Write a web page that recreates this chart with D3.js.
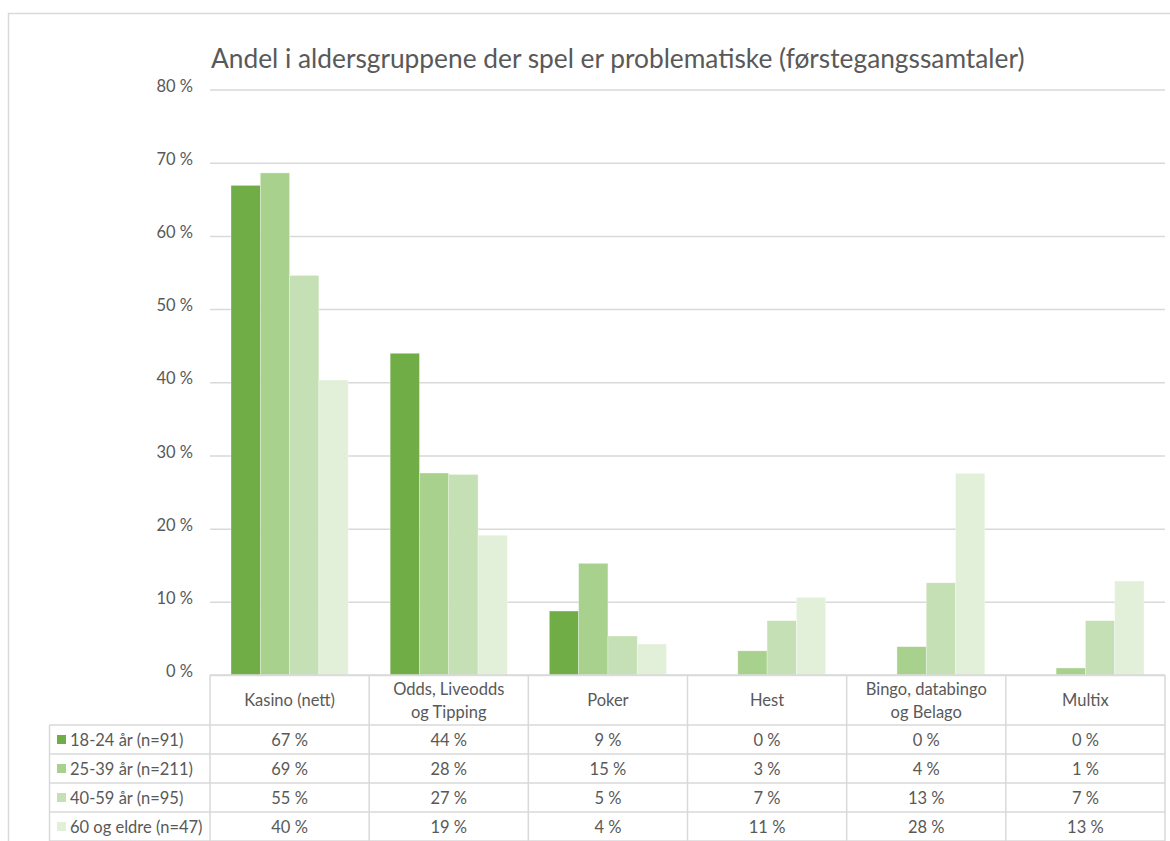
<!DOCTYPE html>
<html>
<head>
<meta charset="utf-8">
<script src="https://cdn.jsdelivr.net/npm/d3@7"></script>
<style>
  body { margin: 0; background: #fff; }
  text { font-family: Lato, "Open Sans", sans-serif; fill: #595959; }
</style>
</head>
<body>
<svg id="Chart"></svg>
<script>
// data
let categories = ["Kasino (nett)", "Odds, Liveodds\nog Tipping", "Poker", "Hest", "Bingo, databingo\nog Belago", "Multix"]
let seriesNames = ["18-24 år (n=91)", "25-39 år (n=211)", "40-59 år (n=95)", "60 og eldre (n=47)"]
let seriesColors = ["#70ad47", "#a9d18e", "#c5e0b4", "#e2f0d9"]
let age18to24 = [66.9, 43.96, 8.74, 0, 0, 0]
let age25to39 = [68.6, 27.6, 15.26, 3.3, 3.87, 0.96]
let age40to59 = [54.6, 27.4, 5.33, 7.42, 12.6, 7.42]
let age60plus = [40.3, 19.1, 4.23, 10.6, 27.55, 12.84]
let yTicks = [0, 10, 20, 30, 40, 50, 60, 70, 80]
let title = "Andel i aldersgruppene der spel er problematiske (førstegangssamtaler)"

let seriesValues = [age18to24, age25to39, age40to59, age60plus]

function getConfig() {
  let width = 1170
  let height = 841
  let plot = { left: 210, right: 1165, top: 89.5, bottom: 675 }
  let table = { legendLeft: 49.5, headerHeight: 50, rowHeight: 29 }
  let container = d3.select("#Chart")
    .attr("width", width)
    .attr("height", height)
  return { width, height, plot, table, container }
}

function getScales(config) {
  let { plot } = config
  let yScale = d3.scaleLinear()
    .domain([0, 80])
    .range([plot.bottom, plot.top])
  let xScale = d3.scaleBand()
    .domain(categories)
    .range([plot.left, plot.right])
  //inner scale for the 4 age groups inside a category
  let xInner = d3.scaleBand()
    .domain(seriesNames)
    .range([21, xScale.bandwidth() - 21])
  return { xScale, yScale, xInner }
}

function drawFrame(config) {
  let { container, width, height } = config
  container.append("rect")
    .attr("x", 0).attr("y", 0)
    .attr("width", width).attr("height", height)
    .attr("fill", "#fff")
  container.append("path")
    .attr("d", `M8.5,${height + 2}V13.5H${width + 2}`)
    .attr("fill", "none")
    .attr("stroke", "#d9d9d9")
    .attr("stroke-width", 1.5)

  container.append("text")
    .attr("x", 211)
    .attr("y", 68)
    .style("font-size", "26.3px")
    .text(title)
}

function drawGrid(scales, config) {
  let { yScale } = scales
  let { container, plot } = config
  let axisY = d3.axisLeft(yScale)
    .tickValues(yTicks)
    .tickSize(-(plot.right - plot.left))
    .tickPadding(17)
    .tickFormat(d => d + " %")

  let g = container.append("g")
    .attr("transform", `translate(${plot.left},0)`)
    .call(axisY)
  g.select(".domain").remove()
  g.selectAll(".tick line")
    .attr("stroke", "#d9d9d9")
    .attr("stroke-width", 1.5)
  g.selectAll(".tick text")
    .attr("dy", "0.1em")
    .style("font-size", "16.5px")
    .style("fill", "#595959")
    .style("font-family", "Lato, sans-serif")
}

function drawBars(scales, config) {
  let { xScale, yScale, xInner } = scales
  let { container } = config

  let bars = []
  seriesValues.forEach((vals, s) => {
    vals.forEach((v, c) => bars.push({ cat: categories[c], series: seriesNames[s], color: seriesColors[s], value: v }))
  })

  container.append("g").selectAll("rect")
    .data(bars.filter(d => d.value > 0))
    .enter().append("rect")
    .attr("x", d => xScale(d.cat) + xInner(d.series))
    .attr("width", xInner.bandwidth())
    .attr("y", d => yScale(d.value))
    .attr("height", d => yScale(0) - yScale(d.value))
    .attr("fill", d => d.color)
    .attr("stroke", "#ffffff")
    .attr("stroke-opacity", 0.5)
    .attr("stroke-width", 0.6)
}

function drawTable(scales, config) {
  let { xScale, yScale } = scales
  let { container, plot, table } = config
  let g = container.append("g")
  let top = yScale(0)
  let headerBottom = top + table.headerHeight
  let lineColor = "#d9d9d9"
  let fontSize = "16.5px"

  // horizontal lines
  g.append("line")
    .attr("x1", plot.left).attr("x2", plot.right)
    .attr("y1", top).attr("y2", top)
    .attr("stroke", lineColor).attr("stroke-width", 1.5)
  seriesNames.forEach((s, i) => {
    let y = headerBottom + i * table.rowHeight
    g.append("line")
      .attr("x1", table.legendLeft).attr("x2", plot.right)
      .attr("y1", y).attr("y2", y)
      .attr("stroke", lineColor).attr("stroke-width", 1.5)
  })
  let bottom = headerBottom + seriesNames.length * table.rowHeight
  g.append("line")
    .attr("x1", table.legendLeft).attr("x2", plot.right)
    .attr("y1", bottom).attr("y2", bottom)
    .attr("stroke", lineColor).attr("stroke-width", 1.5)

  // vertical lines
  g.append("line")
    .attr("x1", table.legendLeft).attr("x2", table.legendLeft)
    .attr("y1", headerBottom).attr("y2", bottom)
    .attr("stroke", lineColor).attr("stroke-width", 1.5)
  categories.concat(["end"]).forEach((c, i) => {
    let x = plot.left + i * xScale.step()
    g.append("line")
      .attr("x1", x).attr("x2", x)
      .attr("y1", top).attr("y2", bottom)
      .attr("stroke", lineColor).attr("stroke-width", 1.5)
  })

  // header labels
  categories.forEach(c => {
    let lines = c.split("\n")
    let cx = xScale(c) + xScale.bandwidth() / 2
    let cy = top + table.headerHeight / 2
    lines.forEach((line, i) => {
      g.append("text")
        .attr("x", cx)
        .attr("y", cy + (i - (lines.length - 1) / 2) * 23 + 6)
        .attr("text-anchor", "middle")
        .style("font-size", fontSize)
        .text(line)
    })
  })

  // rows
  seriesNames.forEach((s, i) => {
    let rowTop = headerBottom + i * table.rowHeight
    let cy = rowTop + table.rowHeight / 2
    g.append("rect")
      .attr("x", 57).attr("y", cy - 4.5)
      .attr("width", 9).attr("height", 9)
      .attr("fill", seriesColors[i])
    g.append("text")
      .attr("x", 70).attr("y", cy + 6)
      .style("font-size", fontSize)
      .text(s)
    seriesValues[i].forEach((v, c) => {
      g.append("text")
        .attr("x", xScale(categories[c]) + xScale.bandwidth() / 2)
        .attr("y", cy + 6)
        .attr("text-anchor", "middle")
        .style("font-size", fontSize)
        .text(Math.round(v) + " %")
    })
  })
}

function drawChart() {
  let config = getConfig()
  let scales = getScales(config)
  drawFrame(config)
  drawGrid(scales, config)
  drawBars(scales, config)
  drawTable(scales, config)
}

drawChart()
</script>
</body>
</html>
